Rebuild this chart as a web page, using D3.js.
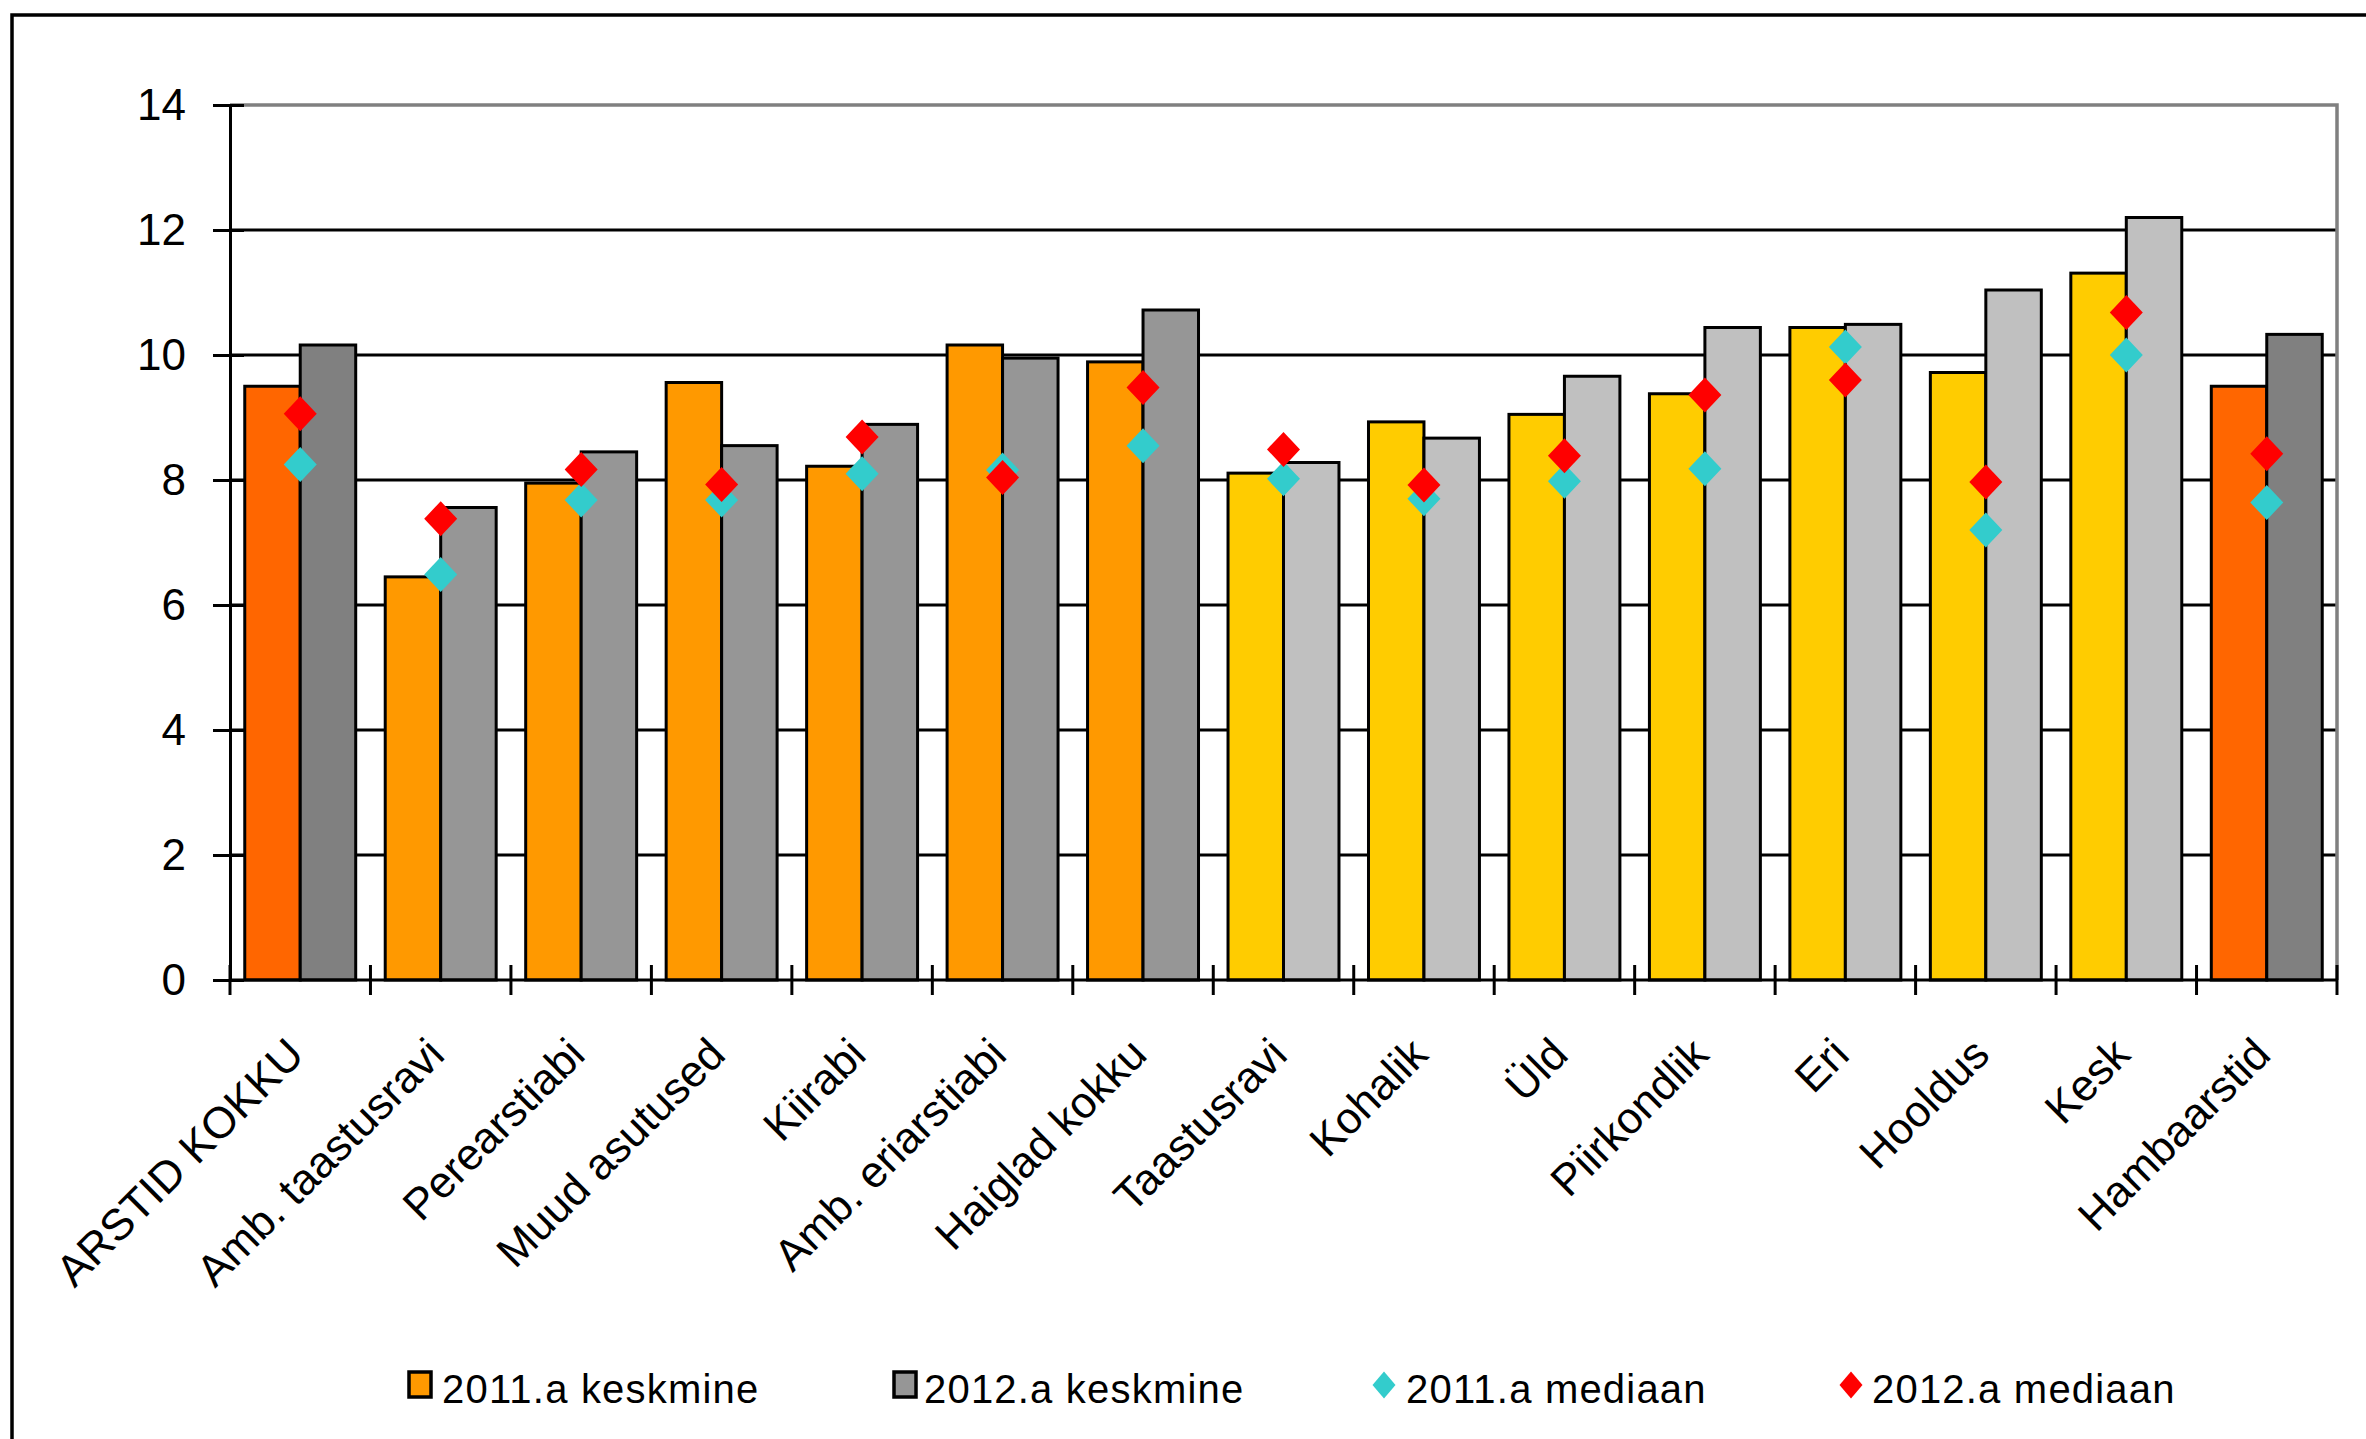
<!DOCTYPE html>
<html>
<head>
<meta charset="utf-8">
<script src="https://cdn.jsdelivr.net/npm/d3@7"></script>
<style>
  html, body { margin: 0; padding: 0; background: #ffffff; }
  svg { display: block; }
  text { font-family: "Liberation Sans", Arial, sans-serif; fill: #000; }
</style>
</head>
<body>
<svg id="chart" width="2366" height="1439"></svg>
<script>
// ---------- DATA ----------
const categories = ["ARSTID KOKKU", "Amb. taastusravi", "Perearstiabi", "Muud asutused", "Kiirabi",
  "Amb. eriarstiabi", "Haiglad kokku", "Taastusravi", "Kohalik", "Üld", "Piirkondlik", "Eri",
  "Hooldus", "Kesk", "Hambaarstid"];
// sector of each category (drives the bar colour family)
const sectors = ["kokku", "amb", "amb", "amb", "amb", "amb", "amb",
  "haigla", "haigla", "haigla", "haigla", "haigla", "haigla", "haigla", "kokku"];
const keskmine2011 = [9.50, 6.45, 7.95, 9.56, 8.22, 10.16, 9.89, 8.11, 8.93, 9.05, 9.38, 10.44, 9.72, 11.31, 9.50];
const keskmine2012 = [10.16, 7.56, 8.45, 8.55, 8.89, 9.95, 10.72, 8.28, 8.67, 9.66, 10.44, 10.49, 11.04, 12.20, 10.33];
const mediaan2011 = [8.25, 6.49, 7.68, 7.68, 8.10, 8.16, 8.55, 8.02, 7.70, 7.98, 8.18, 10.13, 7.20, 10.00, 7.64];
const mediaan2012 = [9.06, 7.38, 8.17, 7.93, 8.69, 8.04, 9.48, 8.49, 7.92, 8.39, 9.36, 9.60, 7.97, 10.68, 8.42];
const yTicks = [0, 2, 4, 6, 8, 10, 12, 14];
const seriesNames = ["2011.a keskmine", "2012.a keskmine", "2011.a mediaan", "2012.a mediaan"];

// ---------- STYLE ----------
const color2011 = d3.scaleOrdinal().domain(["kokku", "amb", "haigla"]).range(["#FF6600", "#FF9900", "#FFCC00"]);
const color2012 = d3.scaleOrdinal().domain(["kokku", "amb", "haigla"]).range(["#808080", "#969696", "#C0C0C0"]);
const medColor = { m2011: "#33CCCC", m2012: "#FF0000" };

const svg = d3.select("#chart");
const L = 230, R = 2337, T = 105, B = 980;

const x0 = d3.scaleBand().domain(categories).range([L, R]).padding(0);
const x1 = d3.scaleBand().domain(["2011", "2012"]).range([0, x0.bandwidth()]).paddingInner(0).paddingOuter(0.266);
const y = d3.scaleLinear().domain([0, 14]).range([B, T]);

// outer frame (clipped at right/bottom in the reference)
svg.append("path").attr("d", `M12,1439 L12,15 L2366,15`).attr("fill", "none")
  .attr("stroke", "#000").attr("stroke-width", 3.5);

// gridlines
svg.append("g").selectAll("line").data(yTicks.filter(d => d > 0 && d < 14)).join("line")
  .attr("x1", L).attr("x2", R).attr("y1", d => y(d)).attr("y2", d => y(d))
  .attr("stroke", "#000").attr("stroke-width", 3);
// plot area border (top + right) in grey
svg.append("path").attr("d", `M${L},${y(14)} L${R},${y(14)} L${R},${y(0)}`)
  .attr("fill", "none").attr("stroke", "#808080").attr("stroke-width", 3.5);

// bars
const groups = svg.append("g").selectAll("g").data(categories).join("g")
  .attr("transform", d => `translate(${x0(d)},0)`);
groups.append("rect")
  .attr("x", x1("2011")).attr("width", x1.bandwidth())
  .attr("y", (d, i) => y(keskmine2011[i])).attr("height", (d, i) => y(0) - y(keskmine2011[i]))
  .attr("fill", (d, i) => color2011(sectors[i])).attr("stroke", "#000").attr("stroke-width", 3);
groups.append("rect")
  .attr("x", x1("2012")).attr("width", x1.bandwidth())
  .attr("y", (d, i) => y(keskmine2012[i])).attr("height", (d, i) => y(0) - y(keskmine2012[i]))
  .attr("fill", (d, i) => color2012(sectors[i])).attr("stroke", "#000").attr("stroke-width", 3);

// diamonds
function diamond(w, h) {
  const p = d3.path();
  p.moveTo(0, -h / 2); p.lineTo(w / 2, 0); p.lineTo(0, h / 2); p.lineTo(-w / 2, 0); p.closePath();
  return p.toString();
}
const dPath = diamond(33, 35);
svg.append("g").selectAll("path").data(mediaan2011).join("path")
  .attr("d", dPath).attr("fill", medColor.m2011)
  .attr("transform", (d, i) => `translate(${x0(categories[i]) + x0.bandwidth() / 2},${y(d)})`);
svg.append("g").selectAll("path").data(mediaan2012).join("path")
  .attr("d", dPath).attr("fill", medColor.m2012)
  .attr("transform", (d, i) => `translate(${x0(categories[i]) + x0.bandwidth() / 2},${y(d)})`);

// y axis
const yAxis = svg.append("g").attr("transform", `translate(${L},0)`)
  .call(d3.axisLeft(y).tickValues(yTicks).tickSize(17).tickSizeOuter(0).tickPadding(27));
yAxis.select(".domain").attr("stroke", "#000").attr("stroke-width", 3);
yAxis.selectAll(".tick line").attr("x1", 14).attr("stroke", "#000").attr("stroke-width", 3);
yAxis.selectAll(".tick text").attr("font-size", 44).attr("font-family", "Liberation Sans, Arial, sans-serif")
  .attr("fill", "#000");

// x axis line + ticks at category boundaries
svg.append("line").attr("x1", L).attr("x2", R).attr("y1", y(0)).attr("y2", y(0))
  .attr("stroke", "#000").attr("stroke-width", 3);
const bounds = d3.range(categories.length + 1).map(i => x0.range()[0] + i * x0.step());
svg.append("g").selectAll("line").data(bounds).join("line")
  .attr("x1", d => d).attr("x2", d => d).attr("y1", y(0) - 15).attr("y2", y(0) + 15)
  .attr("stroke", "#000").attr("stroke-width", 3);

// x labels
svg.append("g").selectAll("text").data(categories).join("text")
  .attr("transform", d => `translate(${x0(d) + x0.bandwidth() / 2 + 6},${y(0) + 77}) rotate(-45)`)
  .attr("text-anchor", "end").attr("font-size", 44).text(d => d);

// legend
const legend = svg.append("g");
const legItems = [
  { name: seriesNames[0], type: "rect", fill: "#FF9900", sx: 409, tx: 442 },
  { name: seriesNames[1], type: "rect", fill: "#969696", sx: 894, tx: 924 },
  { name: seriesNames[2], type: "diamond", fill: medColor.m2011, sx: 1384, tx: 1406 },
  { name: seriesNames[3], type: "diamond", fill: medColor.m2012, sx: 1851, tx: 1872 }
];
legItems.forEach(it => {
  if (it.type === "rect") {
    legend.append("rect").attr("x", it.sx).attr("y", 1372).attr("width", 22).attr("height", 25)
      .attr("fill", it.fill).attr("stroke", "#000").attr("stroke-width", 3.5);
  } else {
    legend.append("path").attr("d", diamond(23, 27)).attr("fill", it.fill)
      .attr("transform", `translate(${it.sx},1385)`);
  }
  legend.append("text").attr("x", it.tx).attr("y", 1403).attr("font-size", 40)
    .attr("letter-spacing", "1.2px").text(it.name);
});
</script>
</body>
</html>
